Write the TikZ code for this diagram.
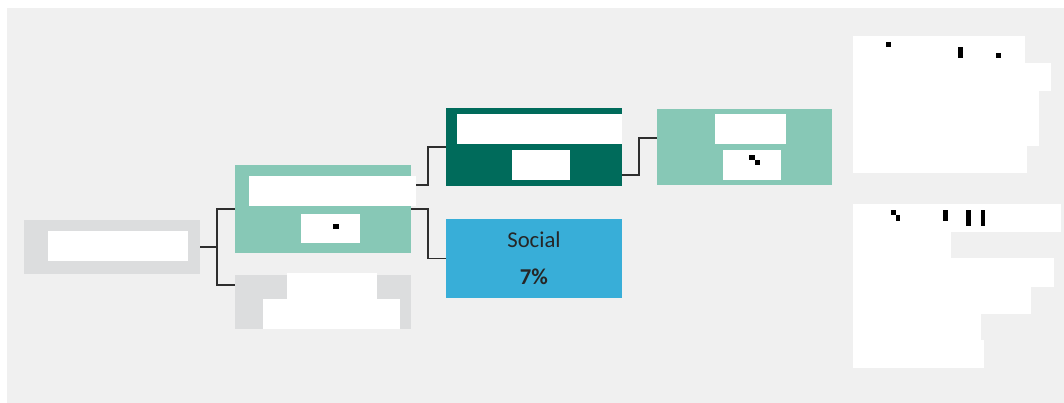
\documentclass[tikz,border=0pt]{standalone}
\usepackage{fontspec}
\setmainfont{Carlito}
\definecolor{bgc}{HTML}{F0F0F0}
\definecolor{greybox}{HTML}{DCDDDE}
\definecolor{tealbox}{HTML}{87C8B6}
\definecolor{darkbox}{HTML}{006B5B}
\definecolor{bluebox}{HTML}{38AED8}
\definecolor{linec}{HTML}{2E2E2E}
\definecolor{txt}{HTML}{262626}
\tikzset{
  box/.style={draw=none, inner sep=0pt, minimum width=132pt},
  conn/.style={draw=linec, line width=1.3pt},
  patch/.style={fill=white},
  speck/.style={fill=black},
}
\begin{document}
\begin{tikzpicture}[x=0.75pt,y=-0.75pt]
\useasboundingbox (0,0) rectangle (1064,403);
\fill[white] (0,0) rectangle (1064,403);
\fill[bgc] (7,8) rectangle (1064,403);

% boxes
\node[box, fill=greybox, minimum height=40.5pt] (root) at (112,247) {};
\node[box, fill=tealbox, minimum height=66pt] (teal1) at (323,209) {};
\node[box, fill=greybox, minimum height=40.5pt] (grey2) at (323,302) {};
\node[box, fill=darkbox, minimum height=58.5pt] (dark) at (534,147) {};
\node[box, fill=bluebox, minimum height=59.25pt] (social) at (534,258.5) {};
\node[box, fill=tealbox, minimum width=131.25pt, minimum height=57pt] (teal2) at (744.5,147) {};

\node[font=\fontsize{17}{20}\selectfont, text=txt, inner sep=0pt] (soclab) at (534,240) {Social};
\node[font=\fontsize{17}{20}\selectfont\bfseries, text=txt, inner sep=0pt] (socval) at (534,277) {7\%};

% connectors
\draw[conn] (root.east) -- ++(17,0) |- (teal1.west);
\draw[conn] (root.east) -- ++(17,0) |- ([yshift=12.75pt]grey2.west);
\draw[conn] ([yshift=18pt]teal1.east) -- ++(17,0) |- (dark.west);
\draw[conn] (teal1.east) -- ++(17,0) |- (social.west);
\draw[conn] ([yshift=-21pt]dark.east) -- ++(17,0) |- ([yshift=6.75pt]teal2.west);

% white patches
\fill[patch] (48,231) rectangle (188,261);
\fill[patch] (249,176) rectangle (416,206);
\fill[patch] (301,214) rectangle (360,243);
\fill[patch] (287,273) rectangle (377,299);
\fill[patch] (263,299) rectangle (400,329);
\fill[patch] (457,114) rectangle (622,144);
\fill[patch] (512,150) rectangle (570,180);
\fill[patch] (715,114) rectangle (786,144);
\fill[patch] (723,150) rectangle (781,180);
% right block 1
\fill[patch] (853,36) rectangle (1025,63);
\fill[patch] (853,63) rectangle (1051,91);
\fill[patch] (853,91) rectangle (1039,146);
\fill[patch] (853,146) rectangle (1027,173);
% right block 2
\fill[patch] (853,204) rectangle (1061,232);
\fill[patch] (853,232) rectangle (951,258);
\fill[patch] (853,258) rectangle (1054,287);
\fill[patch] (853,287) rectangle (1031,314);
\fill[patch] (853,314) rectangle (981,340);
\fill[patch] (853,340) rectangle (984,368);

% specks
\fill[speck] (333,224) rectangle (339,229);
\fill[speck] (749,155) rectangle (755,160);
\fill[speck] (755,160) rectangle (760,165);
\fill[speck] (886,42) rectangle (891,47);
\fill[speck] (958,47) rectangle (963,58);
\fill[speck] (996,53) rectangle (1001,58);
\fill[speck] (891,210) rectangle (896,215);
\fill[speck] (896,215) rectangle (900,221);
\fill[speck] (943,210) rectangle (948,221);
\fill[speck] (966,210) rectangle (971,226);
\fill[speck] (981,210) rectangle (985,226);
\end{tikzpicture}
\end{document}
